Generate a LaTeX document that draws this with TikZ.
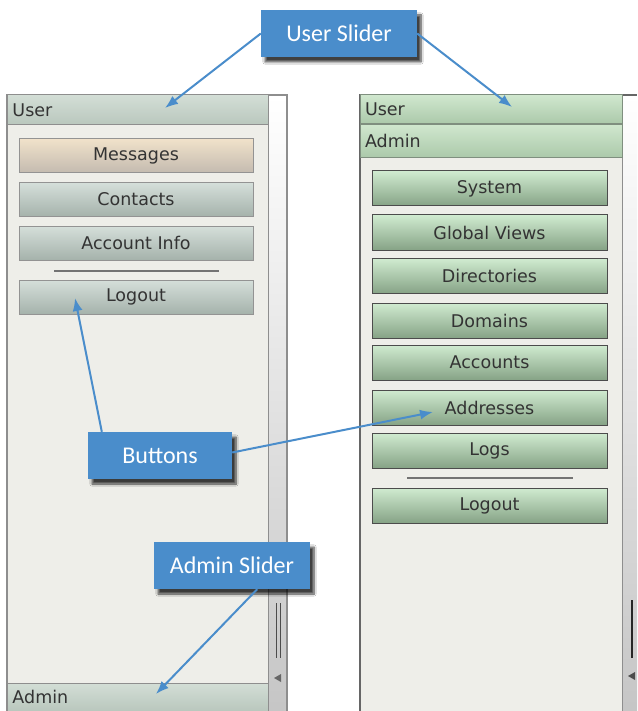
\documentclass[tikz,border=0pt]{standalone}
\usepackage{fontspec}
\setmainfont{DejaVu Sans}
\newfontfamily\callfont{Carlito}
\usetikzlibrary{arrows.meta,shadows.blur}
\definecolor{pane}{HTML}{EEEEE9}
\definecolor{frame}{HTML}{8E8E8E}
\definecolor{uitext}{HTML}{333333}
\definecolor{callblue}{HTML}{4A8DCB}
\definecolor{lhdtop}{HTML}{D3DED6}
\definecolor{lhdbot}{HTML}{B9C7BD}
\definecolor{lbtop}{HTML}{D5DFDA}
\definecolor{lbbot}{HTML}{A5B2AB}
\definecolor{msgtop}{HTML}{F1E2CA}
\definecolor{msgbot}{HTML}{C4BBB0}
\definecolor{rhdtop}{HTML}{D0E7CE}
\definecolor{rhdbot}{HTML}{ABC9AA}
\definecolor{rhdline}{HTML}{7F8F7F}
\definecolor{rbtop}{HTML}{D0EBD0}
\definecolor{rbbot}{HTML}{86A386}
\tikzset{
  >={Latex[length=13pt,width=10pt]},
  ui/.style={font=\fontsize{17.5}{19}\selectfont, text=uitext, inner sep=0pt},
  lhdr/.style={ui, draw=frame, line width=1pt, top color=lhdtop, bottom color=lhdbot,
    minimum width=261pt, minimum height=30pt, text width=250pt, align=left},
  rhdr/.style={ui, draw=rhdline, line width=1pt, top color=rhdtop, bottom color=rhdbot,
    minimum width=262pt, text width=252pt, align=left},
  lbtn/.style={ui, draw=gray!85, line width=1pt, top color=lbtop, bottom color=lbbot,
    minimum width=234pt, minimum height=34pt},
  lsel/.style={lbtn, top color=msgtop, bottom color=msgbot},
  rbtn/.style={ui, draw=black!70, line width=1pt, top color=rbtop, bottom color=rbbot,
    minimum width=235pt, minimum height=35pt},
  callout/.style={fill=callblue, text=white, font=\callfont\fontsize{24}{26}\selectfont,
    minimum width=156pt, minimum height=47pt, inner sep=0pt,
    blur shadow={shadow xshift=4pt, shadow yshift=-5pt, shadow opacity=75, shadow blur steps=8}},
  callarrow/.style={->, draw=callblue, line width=2pt},
  sep/.style={draw=gray!90!black, line width=2.2pt}
}
\begin{document}
\begin{tikzpicture}[x=1pt, y=-1pt]
\useasboundingbox (0,0) rectangle (637,711);
\fill[white] (0,0) rectangle (637,711);

\fill[pane] (7,95) rectangle (268,711);
\shade[top color=white, bottom color=gray!45] (268,95) rectangle (287,711);
\draw[frame, line width=1.5pt] (7,711) -- (7,95) -- (287,95) -- (287,711);
\draw[frame, line width=1pt] (268,95) -- (268,711);
\draw[black!70, line width=1pt] (276,603) -- (276,658) (280,603) -- (280,658);
\fill[black!60] (274,678) -- (281,674) -- (281,682) -- cycle;

\path (137.5,110) node[lhdr] (luser) {User};
\path (137.5,697) node[lhdr, minimum height=28pt] (ladmin) {Admin};
\path (136,155.5) node[lsel] (lmsg) {Messages};
\path (136,199.5) node[lbtn] (lcont) {Contacts};
\path (136,243) node[lbtn] (lacct) {Account Info};
\draw[sep] (54,271) -- (219,271);
\path (136,297) node[lbtn] (llogout) {Logout};

\fill[pane] (360,95) rectangle (622,711);
\shade[top color=white, bottom color=gray!45] (622,95) rectangle (637,711);
\draw[black!60, line width=1.5pt] (360,711) -- (360,95) -- (637,95);
\draw[frame, line width=1pt] (622,95) -- (622,711);
\draw[black!85, line width=2pt] (632,600) -- (632,658);
\fill[black!70] (628,676) -- (635,672) -- (635,680) -- cycle;

\path (491,109.5) node[rhdr, minimum height=29pt] (ruser) {User};
\path (491,141) node[rhdr, minimum height=33pt] (radmin) {Admin};
\path (489.5,188.5) node[rbtn] (rsys) {System};
\path (489.5,232.5) node[rbtn] (rglob) {Global Views};
\path (489.5,276) node[rbtn] (rdir) {Directories};
\path (489.5,320.5) node[rbtn] (rdom) {Domains};
\path (489.5,362.5) node[rbtn] (racc) {Accounts};
\path (489.5,407.5) node[rbtn] (radd) {Addresses};
\path (489.5,450.5) node[rbtn] (rlogs) {Logs};
\draw[sep] (407,478) -- (573,478);
\path (489.5,505.5) node[rbtn] (rlogout) {Logout};

\path (339,33.5) node[callout] (uslide) {User Slider};
\path (160,455.5) node[callout, minimum width=144pt] (bttns) {Buttons};
\path (232,565.5) node[callout] (aslide) {Admin Slider};

\coordinate (tipul) at (165,108);
\coordinate (tipur) at (512,107);
\coordinate (tipbl) at (75,298);
\coordinate (tipbr) at (433,412);
\coordinate (tipa) at (156,694);
\draw[callarrow] (uslide.west) -- (tipul);
\draw[callarrow] (uslide.east) -- (tipur);
\draw[callarrow] ([xshift=14pt]bttns.north west) -- (tipbl);
\draw[callarrow] ([yshift=3pt]bttns.east) -- (tipbr);
\draw[callarrow] ([xshift=-53pt]aslide.south east) -- (tipa);
\end{tikzpicture}
\end{document}
